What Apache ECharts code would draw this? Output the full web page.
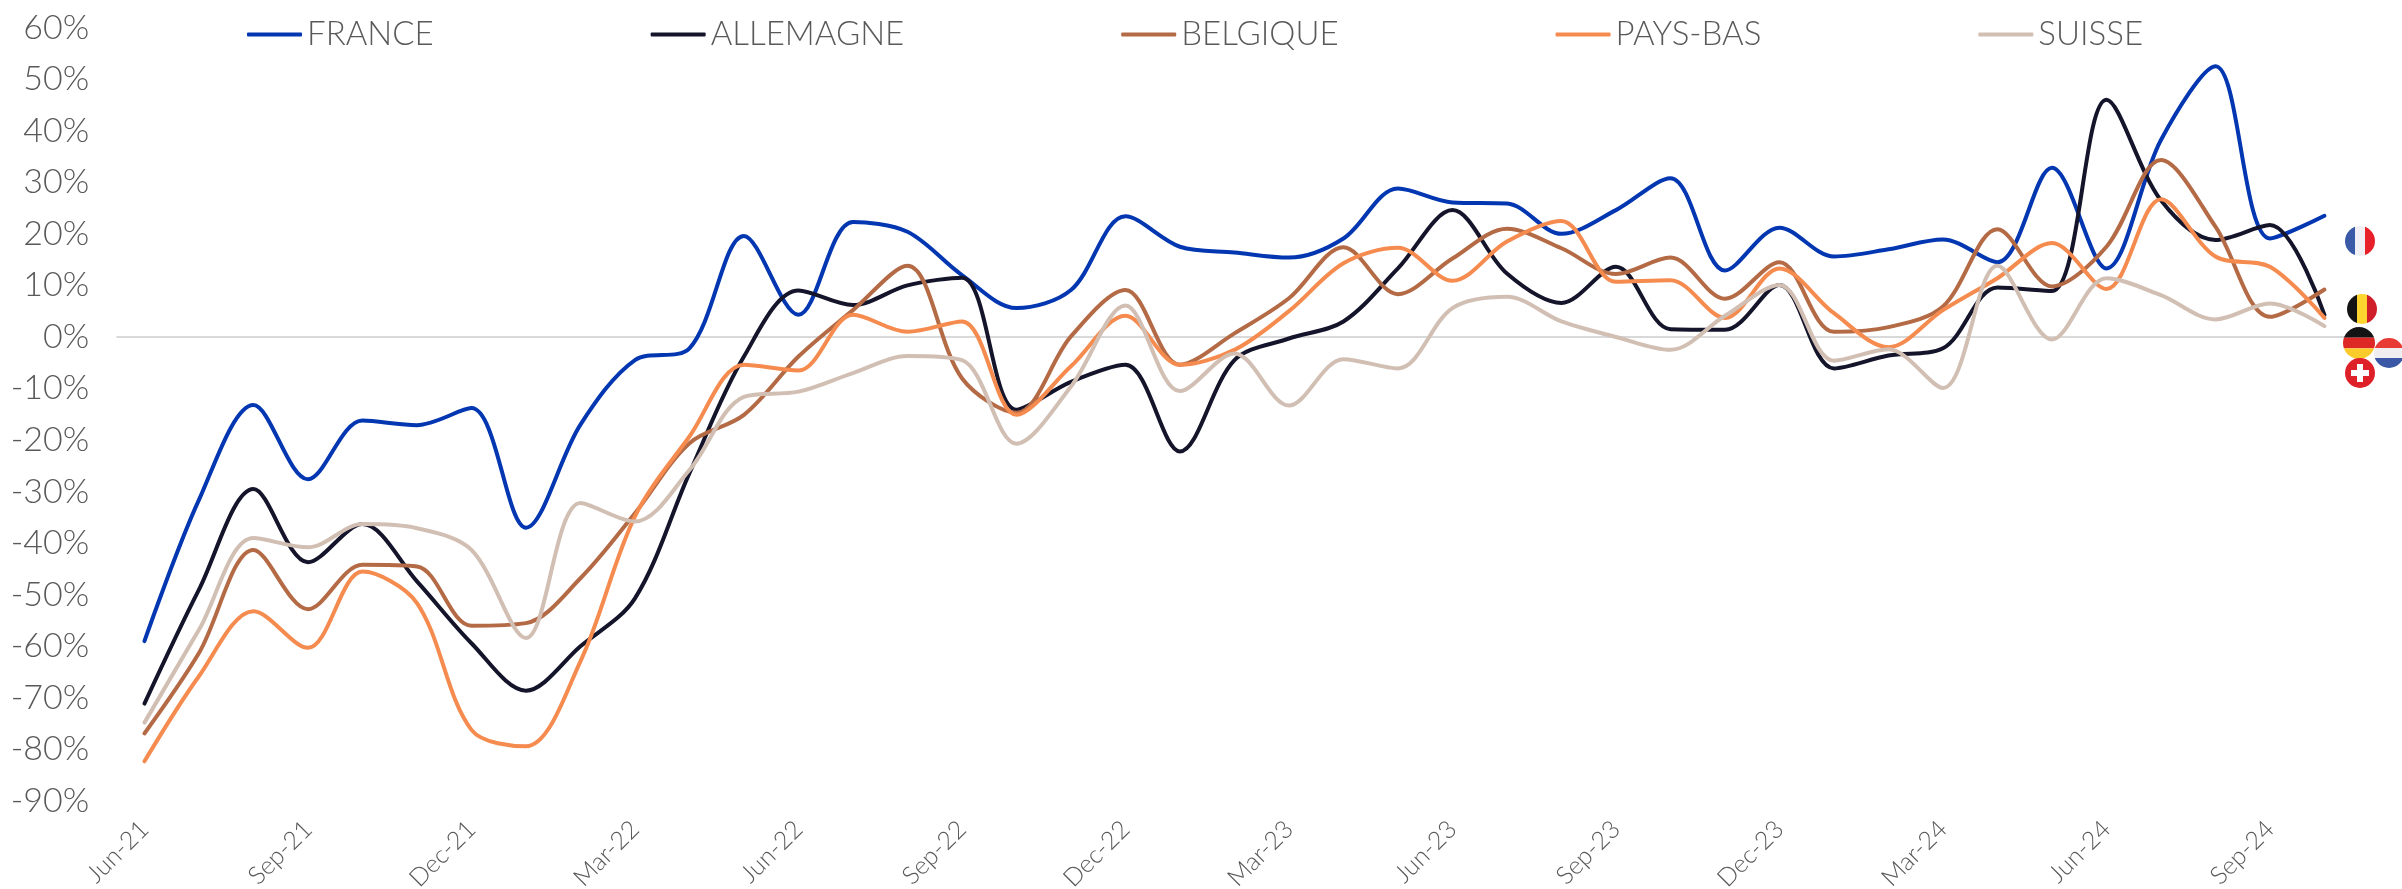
<!DOCTYPE html>
<html>
<head>
<meta charset="utf-8">
<style>
  html, body { margin: 0; padding: 0; background: #fff; }
  #chart { width: 2402px; height: 889px; }
</style>
</head>
<body>
<div id="chart"></div>
<script src="https://cdn.jsdelivr.net/npm/echarts@6/dist/echarts.min.js"></script>
<script>
var months = ["Jun-21","Jul-21","Aug-21","Sep-21","Oct-21","Nov-21","Dec-21","Jan-22","Feb-22","Mar-22","Apr-22","May-22",
  "Jun-22","Jul-22","Aug-22","Sep-22","Oct-22","Nov-22","Dec-22","Jan-23","Feb-23","Mar-23","Apr-23","May-23",
  "Jun-23","Jul-23","Aug-23","Sep-23","Oct-23","Nov-23","Dec-23","Jan-24","Feb-24","Mar-24","Apr-24","May-24",
  "Jun-24","Jul-24","Aug-24","Sep-24","Oct-24"];

var france = [-59,-31.6,-13.2,-27.6,-16.2,-17.1,-13.8,-37,-17,-4.5,-2.2,19.6,4.3,22.3,20.4,12,5.6,9.1,23.4,17.5,16.4,15.4,19.1,28.8,26.1,25.9,20,24.6,30.8,12.9,21.2,15.6,17,18.9,14.5,32.8,13.3,38.2,52.5,19.1,23.5];
var allemagne = [-71.1,-49,-29.5,-43.7,-36.3,-47.4,-59.4,-68.6,-60,-50.7,-26.4,-3.8,9,6.2,10,11.5,-14.1,-8.7,-5.4,-22.2,-4.5,-0.3,3,13.3,24.6,12.3,6.6,13.6,1.5,1.4,10.1,-6.1,-3.6,-2.2,9.6,8.9,46,26.5,18.8,21.7,4.3];
var belgique = [-76.9,-61.3,-41.3,-52.8,-44.2,-44.5,-56,-55.5,-46.8,-34.2,-20.6,-15.1,-3.8,5.2,13.8,-8,-14.7,0.1,9.1,-5.4,0.7,7.5,17.4,8.3,15.2,21,17.2,12.2,15.4,7.4,14.5,1,1.9,5.9,20.9,9.8,17.5,34.3,21.4,3.9,9.2];
var paysBas = [-82.3,-65.8,-53.2,-60.3,-45.5,-51.6,-76.2,-79.4,-62.9,-34.8,-19.3,-5.4,-6.5,4.3,1,3,-15.1,-5.7,4.1,-5.4,-2.5,5,14.3,17.3,10.9,18.5,22.5,10.7,11,3.7,13.3,4.6,-2,5.2,11.4,18.2,9.3,26.7,15.6,13.6,3.7];
var suisse = [-74.8,-56.8,-39,-40.8,-36.3,-37.1,-41.3,-58.4,-32.2,-35.8,-25.8,-11.6,-10.6,-7,-3.7,-4.5,-20.7,-9.6,6.1,-10.5,-3.2,-13.3,-4.3,-6.1,5.6,7.8,3,0,-2.5,4.1,10.1,-4.6,-2.4,-9.9,13.8,-0.5,11.4,8.1,3.4,6.5,2.1];

var names = ["FRANCE","ALLEMAGNE","BELGIQUE","PAYS-BAS","SUISSE"];
var colors = ["#0336B1","#14142B","#B36A45","#F58B4E","#D2BFB4"];
var values = [france, allemagne, belgique, paysBas, suisse];

var textColor = "#595959";
var fontName = "Lato";

// little round flags at the end of the lines
function flag(body, cx, cy, r) {
  var svg = '<svg xmlns="http://www.w3.org/2000/svg" width="60" height="60" viewBox="0 0 60 60">'
    + '<clipPath id="c"><circle cx="30" cy="30" r="30"/></clipPath><g clip-path="url(#c)">' + body + '</g></svg>';
  return {
    type: "image",
    z: 10,
    style: {
      image: "data:image/svg+xml;charset=utf-8," + encodeURIComponent(svg),
      x: cx - r, y: cy - r, width: r * 2, height: r * 2
    }
  };
}
function bars3v(a, b, c) {
  return '<rect width="20" height="60" fill="' + a + '"/><rect x="20" width="20" height="60" fill="' + b + '"/><rect x="40" width="20" height="60" fill="' + c + '"/>';
}
function bars3h(a, b, c) {
  return '<rect width="60" height="20" fill="' + a + '"/><rect y="20" width="60" height="20" fill="' + b + '"/><rect y="40" width="60" height="20" fill="' + c + '"/>';
}
var flags = [
  flag(bars3v("#3A5AA8", "#F0F0F4", "#E8202A"), 2360, 241, 15),
  flag(bars3v("#141414", "#FDD52E", "#D11F2A"), 2362, 309, 15),
  flag(bars3h("#141414", "#DE2826", "#FACB2A"), 2359, 343, 16),
  flag(bars3h("#E83B35", "#EFEFF2", "#3A58A6"), 2389, 353, 15),
  flag('<rect width="60" height="60" fill="#DE2028"/><rect x="24" y="12" width="12" height="36" fill="#fff"/><rect x="12" y="24" width="36" height="12" fill="#fff"/>', 2360, 373, 15)
];

var myChart = echarts.init(document.getElementById("chart"));
var option = {
  animation: false,
  backgroundColor: "#fff",
  color: colors,
  textStyle: { fontFamily: fontName },
  grid: { left: 117.2, right: 50.3, top: 27.6, bottom: 88, outerBoundsMode: "none" },
  legend: {
    left: 242,
    top: 13,
    icon: "roundRect",
    itemWidth: 55,
    itemHeight: 4,
    itemGap: 217,
    data: names,
    textStyle: { color: textColor, fontSize: 33, fontWeight: 300, fontFamily: fontName }
  },
  xAxis: [
    {
      type: "category",
      data: months,
      boundaryGap: true,
      axisLine: { show: false, onZero: false },
      axisTick: { show: false },
      axisLabel: {
        interval: 2,
        rotate: 45,
        margin: 24,
        color: textColor,
        fontSize: 25,
        fontWeight: 300,
        fontFamily: fontName
      }
    },
    {
      type: "category",
      data: months,
      position: "top",
      boundaryGap: true,
      axisLine: { show: true, onZero: true, lineStyle: { color: "#D9D9D9", width: 2 } },
      axisTick: { show: false },
      axisLabel: { show: false }
    }
  ],
  yAxis: {
    type: "value",
    min: -90,
    max: 60,
    interval: 10,
    axisLine: { show: false },
    axisTick: { show: false },
    splitLine: { show: false },
    axisLabel: {
      formatter: "{value}%",
      margin: 28,
      color: textColor,
      fontSize: 34,
      fontWeight: 300,
      fontFamily: fontName
    }
  },
  graphic: flags,
  series: names.map(function (name, i) {
    return {
      name: name,
      type: "line",
      data: values[i],
      smooth: 0.33,
      showSymbol: false,
      symbol: "none",
      lineStyle: { color: colors[i], width: 4, cap: "round" },
      itemStyle: { color: colors[i] }
    };
  })
};
myChart.setOption(option);
</script>
</body>
</html>
